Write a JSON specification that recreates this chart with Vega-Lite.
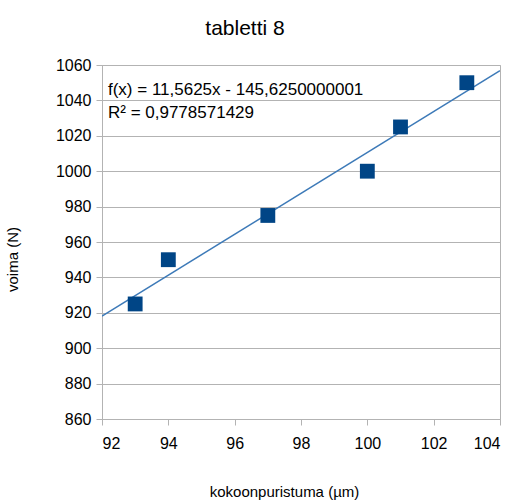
{
  "$schema": "https://vega.github.io/schema/vega-lite/v6.json",
  "width": 398,
  "height": 354,
  "autosize": {"type": "none"},
  "padding": {"left": 102, "top": 65, "right": 14, "bottom": 85},
  "background": "white",
  "title": {
    "text": "tabletti 8",
    "font": "Liberation Sans",
    "fontSize": 21,
    "fontWeight": "normal",
    "color": "#000000",
    "anchor": "middle",
    "dx": -56,
    "offset": 18
  },
  "config": {
    "view": {"stroke": "#b3b3b3", "strokeWidth": 1},
    "axis": {
      "labelFont": "Liberation Sans",
      "labelFontSize": 16,
      "labelColor": "#000000",
      "labelOverlap": false,
      "titleFont": "Liberation Sans",
      "titleFontSize": 15,
      "titleFontWeight": "normal",
      "titleColor": "#000000",
      "gridColor": "#b3b3b3",
      "domainColor": "#b3b3b3",
      "tickColor": "#b3b3b3",
      "tickSize": 6
    }
  },
  "data": {
    "values": [
      {"kokoonpuristuma": 93, "voima": 925},
      {"kokoonpuristuma": 94, "voima": 950},
      {"kokoonpuristuma": 97, "voima": 975},
      {"kokoonpuristuma": 100, "voima": 1000},
      {"kokoonpuristuma": 101, "voima": 1025},
      {"kokoonpuristuma": 103, "voima": 1050}
    ]
  },
  "encoding": {
    "x": {
      "field": "kokoonpuristuma",
      "type": "quantitative",
      "scale": {"domain": [92, 104], "nice": false, "zero": false},
      "axis": {
        "title": "kokoonpuristuma (µm)",
        "values": [92, 94, 96, 98, 100, 102, 104],
        "format": "d",
        "grid": false,
        "labelPadding": 10,
        "titleY": 65,
        "titleX": 182
      }
    },
    "y": {
      "field": "voima",
      "type": "quantitative",
      "scale": {"domain": [860, 1060], "nice": false, "zero": false},
      "axis": {
        "title": "voima (N)",
        "values": [860, 880, 900, 920, 940, 960, 980, 1000, 1020, 1040, 1060],
        "tickCount": 11,
        "format": "d",
        "grid": true,
        "labelPadding": 5,
        "titleX": -82,
        "titleY": 194
      }
    }
  },
  "layer": [
    {
      "transform": [
        {"regression": "voima", "on": "kokoonpuristuma", "method": "linear", "extent": [92, 104]}
      ],
      "mark": {"type": "line", "color": "#3d7ab8", "strokeWidth": 1.5, "clip": true}
    },
    {
      "mark": {"type": "square", "size": 220, "color": "#004586", "opacity": 1, "filled": true}
    },
    {
      "data": {
        "values": [
          {"kokoonpuristuma": 92.18, "voima": 1045.9, "label": "f(x) = 11,5625x - 145,6250000001"},
          {"kokoonpuristuma": 92.18, "voima": 1032.9, "label": "R² = 0,9778571429"}
        ]
      },
      "mark": {"type": "text", "align": "left", "baseline": "middle", "font": "Liberation Sans", "fontSize": 17, "color": "#000000"},
      "encoding": {
        "text": {"field": "label"}
      }
    }
  ]
}
